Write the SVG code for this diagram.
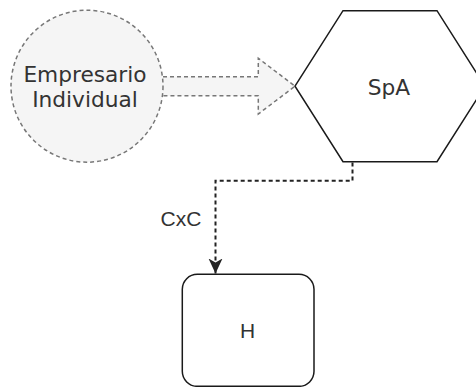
<svg xmlns="http://www.w3.org/2000/svg" width="476" height="387" viewBox="0 0 476 387">
  <defs>
    <style>
      .dj { font-family: "DejaVu Sans", Verdana, sans-serif; font-size: 21.7px; fill: #333333; text-anchor: middle; }
      .ls { font-family: "Liberation Sans", Arial, sans-serif; font-size: 21px; fill: #333333; text-anchor: middle; }
      .ghost { fill: #f5f5f5; stroke: #777777; stroke-width: 1.5; stroke-dasharray: 4 3; }
      .solid { fill: #ffffff; stroke: #1a1a1a; stroke-width: 1.5; }
      .link { fill: none; stroke: #222222; stroke-width: 2; stroke-dasharray: 4 3; }
    </style>
    <marker id="arrow" markerUnits="userSpaceOnUse" markerWidth="16" markerHeight="16" refX="15" refY="7" orient="auto">
      <path d="M0,0 L15,7 L0,14 L4,7 Z" fill="#222222"/>
    </marker>
  </defs>
  <rect width="476" height="387" fill="#ffffff"/>

  <g id="connectors">
    <g id="flex-arrow">
      <path d="M163,76.7 H258.3 V58.3 L295,86.2 L258.3,114 V95.7 H163 Z" fill="#f5f5f5" stroke="none"/>
      <path d="M163,76.7 H258.3 V58.3 L295,86.2 L258.3,114 V95.7 H163" class="ghost"/>
    </g>
    <path id="edge-cxc" d="M352.5,162.5 V180.7 H215.5 V273.5" class="link" marker-end="url(#arrow)"/>
    <text class="ls" x="181" y="226" fill="#444444">CxC</text>
  </g>

  <g id="node-empresario">
    <circle cx="87" cy="86.2" r="76" class="ghost"/>
    <text class="dj" x="85" y="81.5">Empresario</text>
    <text class="dj" x="85" y="106.5">Individual</text>
  </g>

  <g id="node-spa">
    <polygon points="295,86.2 343,10.7 437,10.7 485,86.2 437,161.7 343,161.7" class="solid"/>
    <text class="dj" x="389" y="95">SpA</text>
  </g>

  <g id="node-h">
    <rect x="182.3" y="274.3" width="131.7" height="112" rx="15" ry="15" class="solid"/>
    <text class="ls" x="247.5" y="338">H</text>
  </g>
</svg>
